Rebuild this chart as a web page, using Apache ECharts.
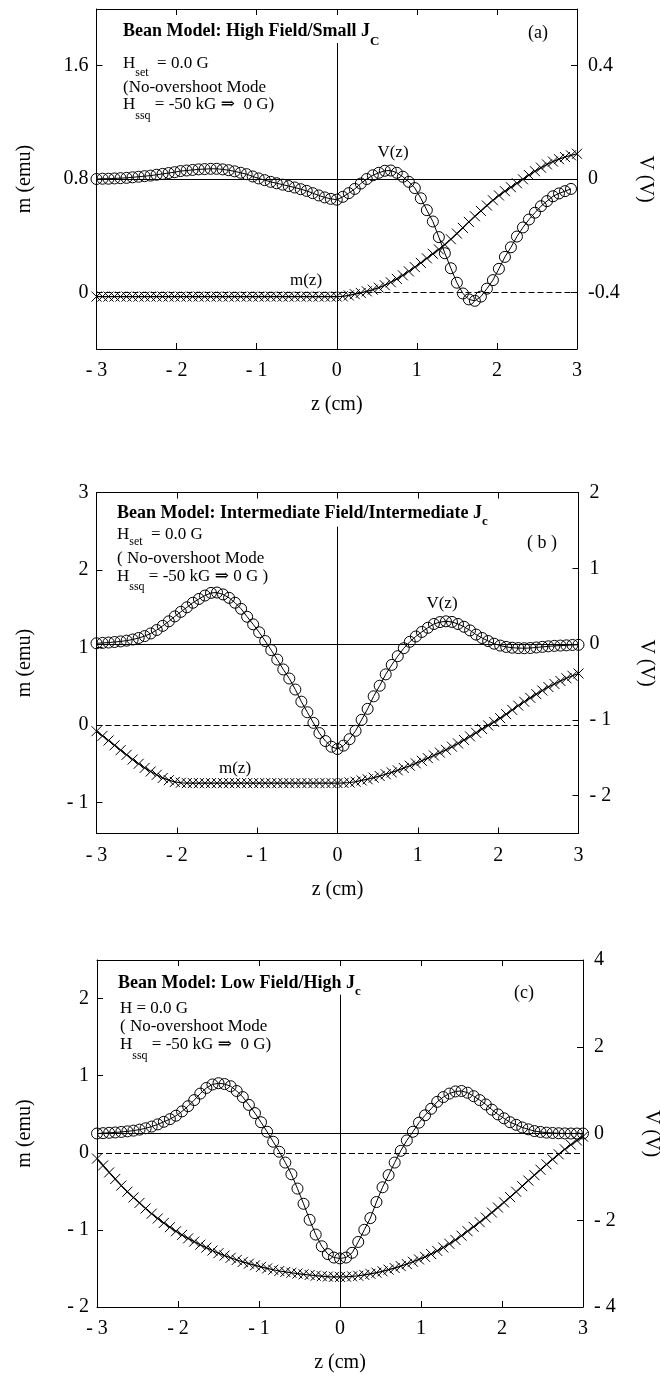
<!DOCTYPE html>
<html><head><meta charset="utf-8">
<script src="https://cdn.jsdelivr.net/npm/echarts@6/dist/echarts.min.js"></script>
<style>html,body{margin:0;padding:0;background:#fff}#c{width:660px;height:1379px}</style>
</head><body><div id="c"></div>
<script>
// ---- data (z in cm, m in emu, V in volts) ----
const Z = [-3,-2.925,-2.85,-2.775,-2.7,-2.625,-2.55,-2.475,-2.4,-2.325,-2.25,-2.175,-2.1,-2.025,-1.95,-1.875,-1.8,-1.725,-1.65,-1.575,-1.5,-1.425,-1.35,-1.275,-1.2,-1.125,-1.05,-0.975,-0.9,-0.825,-0.75,-0.675,-0.6,-0.525,-0.45,-0.375,-0.3,-0.225,-0.15,-0.075,0,0.075,0.15,0.225,0.3,0.375,0.45,0.525,0.6,0.675,0.75,0.825,0.9,0.975,1.05,1.125,1.2,1.275,1.35,1.425,1.5,1.575,1.65,1.725,1.8,1.875,1.95,2.025,2.1,2.175,2.25,2.325,2.4,2.475,2.55,2.625,2.7,2.775,2.85,2.925,3];
const Z_TICKS = [-3,-2,-1,0,1,2,3];

// (a) High field / small Jc
const V_A = [0,0.001,0.001,0.002,0.003,0.004,0.006,0.008,0.01,0.012,
  0.015,0.018,0.021,0.024,0.028,0.03,0.032,0.034,0.035,0.036,
  0.036,0.034,0.031,0.027,0.022,0.017,0.009,0.002,-0.004,-0.01,
  -0.015,-0.02,-0.025,-0.03,-0.036,-0.042,-0.05,-0.058,-0.065,-0.07,
  -0.073,-0.063,-0.05,-0.035,-0.016,0,0.013,0.022,0.029,0.03,
  0.022,0.008,-0.01,-0.032,-0.068,-0.11,-0.15,-0.205,-0.262,-0.315,
  -0.366,-0.404,-0.425,-0.43,-0.415,-0.387,-0.357,-0.317,-0.275,-0.241,
  -0.203,-0.171,-0.143,-0.119,-0.096,-0.078,-0.061,-0.051,-0.043,-0.035,null];
const M_A = [-0.03,-0.03,-0.03,-0.03,-0.03,-0.03,-0.03,-0.03,-0.03,-0.03,
  -0.03,-0.03,-0.03,-0.03,-0.03,-0.03,-0.03,-0.03,-0.03,-0.03,
  -0.03,-0.03,-0.03,-0.03,-0.03,-0.03,-0.03,-0.03,-0.03,-0.03,
  -0.03,-0.03,-0.03,-0.03,-0.03,-0.03,-0.03,-0.03,-0.03,-0.03,
  -0.03,-0.028,-0.022,-0.013,-0.004,0.007,0.019,0.033,0.05,0.071,
  0.095,0.12,0.148,0.178,0.208,0.24,0.272,0.303,0.337,0.375,
  0.415,0.455,0.497,0.537,0.575,0.613,0.65,0.684,0.714,0.742,
  0.77,0.798,0.828,0.855,0.88,0.903,0.923,0.94,0.955,0.967,0.978];
const M_TICKS_A = [0,0.8,1.6];
const V_TICKS_A = [-0.4,0,0.4];

// (b) Intermediate field / intermediate Jc
const V_B = [0.01,0.015,0.02,0.027,0.035,0.045,0.06,0.08,0.105,0.14,
  0.185,0.24,0.3,0.365,0.425,0.485,0.545,0.595,0.64,0.675,
  0.68,0.655,0.61,0.545,0.465,0.36,0.26,0.155,0.04,-0.08,
  -0.205,-0.335,-0.455,-0.6,-0.76,-0.9,-1.04,-1.175,-1.28,-1.355,
  -1.385,-1.34,-1.255,-1.145,-1,-0.855,-0.69,-0.55,-0.4,-0.275,
  -0.16,-0.055,0.03,0.1,0.16,0.215,0.265,0.29,0.3,0.292,
  0.265,0.228,0.18,0.125,0.08,0.04,0.005,-0.02,-0.038,-0.048,
  -0.053,-0.055,-0.052,-0.045,-0.037,-0.03,-0.024,-0.02,-0.017,-0.012,-0.01];
const M_B = [-0.08,-0.14,-0.2,-0.262,-0.325,-0.385,-0.445,-0.5,-0.553,-0.6,
  -0.643,-0.683,-0.712,-0.735,-0.745,-0.75,-0.75,-0.75,-0.75,-0.75,
  -0.75,-0.75,-0.75,-0.75,-0.75,-0.75,-0.75,-0.75,-0.75,-0.75,
  -0.75,-0.75,-0.75,-0.75,-0.75,-0.75,-0.75,-0.75,-0.75,-0.75,
  -0.75,-0.748,-0.742,-0.732,-0.715,-0.7,-0.68,-0.658,-0.635,-0.612,
  -0.585,-0.555,-0.525,-0.495,-0.462,-0.428,-0.393,-0.357,-0.32,-0.28,
  -0.238,-0.193,-0.147,-0.1,-0.052,-0.005,0.04,0.088,0.14,0.195,
  0.25,0.3,0.35,0.398,0.445,0.49,0.53,0.568,0.603,0.635,0.665];
const M_TICKS_B = [-1,0,1,2,3];
const V_TICKS_B = [-2,-1,0,1,2];

// (c) Low field / high Jc
const V_C = [0,0.008,0.016,0.024,0.036,0.05,0.066,0.09,0.12,0.16,
  0.21,0.27,0.33,0.41,0.51,0.63,0.77,0.92,1.05,1.13,
  1.16,1.14,1.09,0.98,0.84,0.66,0.47,0.26,0.04,-0.19,
  -0.42,-0.67,-0.94,-1.27,-1.62,-1.99,-2.33,-2.6,-2.78,-2.86,
  -2.88,-2.86,-2.75,-2.5,-2.22,-1.95,-1.58,-1.24,-0.96,-0.67,
  -0.4,-0.16,0.04,0.25,0.42,0.57,0.73,0.84,0.92,0.97,
  0.98,0.94,0.86,0.77,0.67,0.55,0.44,0.35,0.26,0.2,
  0.14,0.096,0.056,0.036,0.02,0.012,0.006,0.002,0,0,0];
const M_C = [-0.075,-0.165,-0.255,-0.34,-0.425,-0.505,-0.58,-0.65,-0.722,-0.79,
  -0.852,-0.91,-0.965,-1.018,-1.065,-1.11,-1.152,-1.192,-1.23,-1.268,
  -1.302,-1.333,-1.362,-1.39,-1.415,-1.438,-1.46,-1.48,-1.5,-1.517,
  -1.533,-1.545,-1.556,-1.566,-1.576,-1.585,-1.594,-1.6,-1.605,-1.609,
  -1.61,-1.608,-1.603,-1.595,-1.584,-1.57,-1.555,-1.537,-1.516,-1.495,
  -1.47,-1.443,-1.413,-1.383,-1.35,-1.313,-1.272,-1.228,-1.18,-1.13,
  -1.075,-1.017,-0.96,-0.9,-0.84,-0.775,-0.71,-0.643,-0.575,-0.505,
  -0.433,-0.36,-0.29,-0.22,-0.15,-0.085,-0.02,0.045,0.105,0.16,0.21];
const M_TICKS_C = [-2,-1,0,1,2];
const V_TICKS_C = [-4,-2,0,2,4];

// ---- rendering ----
const FONT = "'Liberation Serif','DejaVu Serif',serif";
const BLACK = '#000';
function pts(zs, vs){ const out=[]; for(let i=0;i<zs.length;i++){ if(vs[i]!==null && vs[i]!==undefined) out.push([zs[i], vs[i]]); } return out; }
const fmtSp = v => (v < 0 ? '- ' + (-v) : String(v));
const fmtPlain = v => String(v);

const panels = [
  {grid:{left:96.5, top:9, width:480.5, height:340}, m:[-0.4,2.0], v:[-0.6,0.6], mt:M_TICKS_A, vt:V_TICKS_A, mf:fmtPlain, vf:fmtPlain, V:V_A, M:M_A, vLineTop:1.76},
  {grid:{left:96.5, top:492.5, width:482, height:341}, m:[-1.4,3], v:[-2.5,2], mt:M_TICKS_B, vt:V_TICKS_B, mf:fmtSp, vf:fmtSp, V:V_B, M:M_B, vLineTop:2.56},
  {grid:{left:97, top:960, width:486, height:347}, m:[-2,2.5], v:[-4,4], mt:M_TICKS_C, vt:V_TICKS_C, mf:fmtSp, vf:fmtSp, V:V_C, M:M_C, vLineTop:2.05}
];

const axLine = {show:true, onZero:false, lineStyle:{color:BLACK, width:1}};
const tick = (vals) => Object.assign({show:true, inside:true, length:6, lineStyle:{color:BLACK, width:1}}, vals ? {customValues: vals} : {});
const lab = {color:BLACK, fontFamily:FONT, fontSize:20};
const nameStyle = {color:BLACK, fontFamily:FONT, fontSize:20};

const grid=[], xAxis=[], yAxis=[], series=[];
panels.forEach((p,i)=>{
  grid.push(Object.assign({show:false, containLabel:false, outerBoundsMode:'none'}, p.grid));
  xAxis.push({gridIndex:i, type:'value', position:'bottom', min:-3, max:3,
    axisLine:axLine, axisTick:tick(Z_TICKS), splitLine:{show:false},
    axisLabel:Object.assign({formatter:fmtSp, margin:12, customValues:Z_TICKS}, lab),
    name:'z (cm)', nameLocation:'middle', nameGap:46, nameTextStyle:nameStyle});
  xAxis.push({gridIndex:i, type:'value', position:'top', min:-3, max:3,
    axisLine:axLine, axisTick:tick(Z_TICKS), splitLine:{show:false}, axisLabel:{show:false}});
  yAxis.push({gridIndex:i, type:'value', position:'left', min:p.m[0], max:p.m[1],
    axisLine:axLine, axisTick:tick(p.mt), splitLine:{show:false},
    axisLabel:Object.assign({formatter:p.mf, margin:8, customValues:p.mt}, lab),
    name:'m (emu)', nameLocation:'middle', nameGap:62, nameTextStyle:nameStyle});
  yAxis.push({gridIndex:i, type:'value', position:'right', min:p.v[0], max:p.v[1],
    axisLine:axLine, axisTick:tick(p.vt), splitLine:{show:false},
    axisLabel:Object.assign({formatter:p.vf, margin:11, customValues:p.vt}, lab),
    name:'V (V)', nameLocation:'middle', nameRotate:-90, nameGap:58, nameTextStyle:nameStyle});
  // V(z): open circles
  series.push({type:'line', xAxisIndex:2*i, yAxisIndex:2*i+1, data:pts(Z,p.V),
    symbol:'circle', symbolSize:11, showAllSymbol:true, z:4,
    itemStyle:{color:'rgba(0,0,0,0)', borderColor:BLACK, borderWidth:1},
    lineStyle:{color:BLACK, width:1}, emphasis:{disabled:true},
    markLine:{silent:true, symbol:['none','none'], label:{show:false}, animation:false,
      lineStyle:{color:BLACK, width:1, type:'solid'}, data:[{yAxis:0}]}});
  // m(z): crosses
  series.push({type:'line', xAxisIndex:2*i, yAxisIndex:2*i, data:pts(Z,p.M),
    symbol:'path://M0,0L10,10M10,0L0,10', symbolSize:10, showAllSymbol:true, z:3,
    itemStyle:{color:'none', borderColor:BLACK, borderWidth:1},
    lineStyle:{color:BLACK, width:1.2}, emphasis:{disabled:true},
    markLine:{silent:true, symbol:['none','none'], label:{show:false}, animation:false,
      data:[
        {yAxis:0, lineStyle:{color:BLACK, width:1, type:[6,3]}},
        [{coord:[0,p.vLineTop], lineStyle:{color:BLACK, width:1, type:'solid'}},{coord:[0,p.m[0]]}]
      ]}});
});

function rt(x, y, parts, align){
  const rich={}; let s='';
  parts.forEach((q,i)=>{
    const k='p'+i;
    rich[k]={fontFamily:FONT, fontSize:q.fs, fontWeight:q.b?'bold':'normal', fill:BLACK,
      padding:[q.dy?2*q.dy:0, 0, 0, 0]};
    s+='{'+k+'|'+q.t+'}';
  });
  return {type:'text', x:x, y:y, silent:true, z:10,
    style:{text:s, rich:rich, fill:BLACK, fontFamily:FONT, verticalAlign:'middle', align:align||'left'}};
}
const graphic = [
  rt(123,31.7,[{t:'Bean Model: High Field/Small J',fs:18,b:1},{t:'C',fs:13,b:1,dy:10}]),
  rt(123,63.3,[{t:'H',fs:17},{t:'set',fs:12,dy:10},{t:'  = 0.0 G',fs:17}]),
  rt(123,87.7,[{t:'(No-overshoot Mode',fs:17}]),
  rt(123,104.3,[{t:'H',fs:17},{t:'ssq',fs:12,dy:12},{t:' = -50 kG \u21D2  0 G)',fs:17}]),
  rt(538,33,[{t:'(a)',fs:18}],'center'),
  rt(393,153,[{t:'V(z)',fs:17}],'center'),
  rt(306,281,[{t:'m(z)',fs:17}],'center'),

  rt(117,513,[{t:'Bean Model: Intermediate Field/Intermediate J',fs:18,b:1},{t:'c',fs:13,b:1,dy:9}]),
  rt(117,535,[{t:'H',fs:17},{t:'set',fs:12,dy:7},{t:'  = 0.0 G',fs:17}]),
  rt(117,558.3,[{t:'( No-overshoot Mode',fs:17}]),
  rt(117,576.7,[{t:'H',fs:17},{t:'ssq',fs:12,dy:10},{t:' = -50 kG \u21D2 0 G )',fs:17}]),
  rt(542,543,[{t:'( b )',fs:18}],'center'),
  rt(442,604,[{t:'V(z)',fs:17}],'center'),
  rt(235,769,[{t:'m(z)',fs:17}],'center'),

  rt(118,983,[{t:'Bean Model: Low Field/High J',fs:18,b:1},{t:'c',fs:13,b:1,dy:9}]),
  rt(120,1008.3,[{t:'H = 0.0 G',fs:17}]),
  rt(120,1026.7,[{t:'( No-overshoot Mode',fs:17}]),
  rt(120,1045,[{t:'H',fs:17},{t:'ssq',fs:12,dy:11},{t:' = -50 kG \u21D2  0 G)',fs:17}]),
  rt(524,993,[{t:'(c)',fs:18}],'center')
];

const chart = echarts.init(document.getElementById('c'), null, {renderer:'canvas'});
chart.setOption({animation:false, backgroundColor:'#fff', grid, xAxis, yAxis, series, graphic});
</script>
</body></html>
